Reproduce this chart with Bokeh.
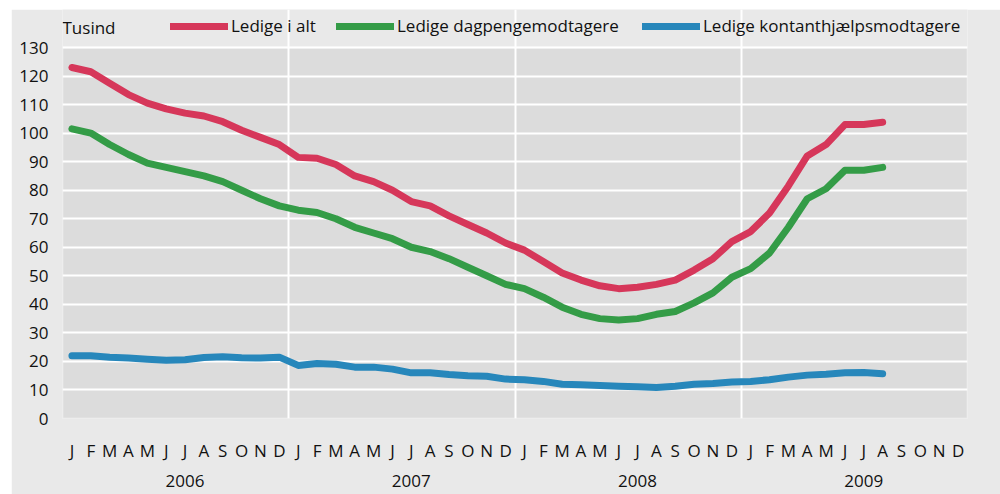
from bokeh.plotting import figure
from bokeh.models import (FixedTicker, LinearAxis, Range1d, Legend, LegendItem, Label,
                          Spacer, BoxAnnotation)
from bokeh.layouts import column, row
from bokeh.embed import file_html
from bokeh.resources import INLINE

month_letters = ["J", "F", "M", "A", "M", "J", "J", "A", "S", "O", "N", "D"]
years = ["2006", "2007", "2008", "2009"]

series_names = ["Ledige i alt", "Ledige dagpengemodtagere", "Ledige kontanthjælpsmodtagere"]
unit_label = "Tusind"

# Jan 2006 - Aug 2009, thousands
ledige_i_alt = [
    123.0, 121.5, 117.5, 113.5, 110.5, 108.5, 107.0, 106.0, 104.0, 101.0, 98.5, 96.0,
    91.5, 91.2, 89.0, 85.0, 83.0, 80.0, 76.0, 74.5, 71.0, 68.0, 65.0, 61.5,
    59.0, 55.0, 51.0, 48.5, 46.5, 45.5, 46.0, 47.0, 48.5, 52.0, 56.0, 62.0,
    65.5, 72.0, 81.5, 92.0, 96.0, 103.0, 103.0, 103.8,
]
ledige_dagpenge = [
    101.5, 100.0, 96.0, 92.5, 89.5, 88.0, 86.5, 85.0, 83.0, 80.0, 77.0, 74.5,
    73.0, 72.2, 70.0, 67.0, 65.0, 63.0, 60.0, 58.5, 56.0, 53.0, 50.0, 47.0,
    45.5, 42.5, 39.0, 36.5, 35.0, 34.5, 35.0, 36.5, 37.5, 40.5, 44.0, 49.5,
    52.5, 58.0, 67.0, 77.0, 80.5, 87.0, 87.0, 88.0,
]
ledige_kontanthjaelp = [
    22.0, 22.0, 21.5, 21.2, 20.8, 20.4, 20.6, 21.4, 21.6, 21.3, 21.2, 21.5,
    18.6, 19.3, 19.0, 18.0, 18.0, 17.3, 16.0, 16.0, 15.4, 15.0, 14.8, 13.8,
    13.6, 13.0, 12.0, 11.8, 11.6, 11.3, 11.1, 10.9, 11.3, 12.0, 12.3, 12.8,
    13.0, 13.6, 14.5, 15.2, 15.5, 16.0, 16.1, 15.7,
]

colors = ["#d6375a", "#349c47", "#2787bb"]
FONT = "Open Sans"
FS = "17px"
TXT = "#111111"
OUTER = "#e9e9e9"
INNER = "#dcdcdc"

x = list(range(len(ledige_i_alt)))
n_months = 12 * len(years)
y_max = 130
# frame extends above the 130 line to hold the legend row (409 px frame, 371 px for 0..130)
y_top = y_max * 409 / 371
x0, x1 = -0.5, n_months - 0.5

p = figure(
    width=989, height=485,
    x_range=Range1d(x0, x1), y_range=Range1d(0, y_top),
    output_backend="svg", toolbar_location=None,
    min_border_left=51, min_border_right=33, min_border_top=0, min_border_bottom=76,
)
p.background_fill_color = OUTER
p.border_fill_color = OUTER
p.outline_line_color = None

p.add_layout(BoxAnnotation(left=x0, right=x1, bottom=0, top=y_max,
                           fill_color=INNER, fill_alpha=1,
                           line_color="white", line_width=2, level="image"))

p.ygrid.ticker = FixedTicker(ticks=list(range(0, y_max + 1, 10)))
p.xgrid.ticker = FixedTicker(ticks=[i * 12 - 0.5 for i in range(len(years) + 1)])
p.xgrid.bounds = (0, y_max)
for g in (p.xgrid[0], p.ygrid[0]):
    g.grid_line_color = "white"
    g.grid_line_width = 2

ya = p.yaxis[0]
ya.ticker = FixedTicker(ticks=list(range(0, y_max + 1, 10)))
ya.axis_line_color = None
ya.major_tick_line_color = None
ya.minor_tick_line_color = None
ya.major_tick_out = 0
ya.major_tick_in = 0
ya.major_label_standoff = 14
ya.major_label_text_font = FONT
ya.major_label_text_font_size = FS
ya.major_label_text_color = TXT

xa = p.xaxis[0]
xa.ticker = FixedTicker(ticks=list(range(n_months)))
xa.major_label_overrides = {i: month_letters[i % 12] for i in range(n_months)}
xa.axis_line_color = None
xa.major_tick_line_color = None
xa.minor_tick_line_color = None
xa.major_tick_out = 0
xa.major_tick_in = 0
xa.major_label_standoff = 20
xa.major_label_text_font = FONT
xa.major_label_text_font_size = FS
xa.major_label_text_color = TXT

year_ticks = [i * 12 + 6 for i in range(len(years))]
xa2 = LinearAxis(
    ticker=FixedTicker(ticks=year_ticks),
    major_label_overrides={t: years[i] for i, t in enumerate(year_ticks)},
    axis_line_color=None, major_tick_line_color=None, minor_tick_line_color=None,
    major_tick_out=0, major_tick_in=0, major_label_standoff=10,
    major_label_text_font=FONT, major_label_text_font_size=FS,
    major_label_text_color=TXT,
)
p.add_layout(xa2, "below")

renderers = []
for ys, c in zip([ledige_i_alt, ledige_dagpenge, ledige_kontanthjaelp], colors):
    renderers.append(p.line(x, ys, line_color=c, line_width=7,
                            line_cap="round", line_join="round"))

legend_x = [108, 274, 580]
for name, r, lx in zip(series_names, renderers, legend_x):
    lg = Legend(
        items=[LegendItem(label=name, renderers=[r])],
        location=(lx, 381), orientation="horizontal",
        padding=0, margin=0, spacing=0,
        glyph_width=58, glyph_height=20, label_height=20, label_standoff=3,
        border_line_color=None, background_fill_alpha=0,
        label_text_font=FONT, label_text_font_size=FS, label_text_color=TXT,
    )
    p.add_layout(lg, "center")

p.add_layout(Label(x=x0, y=137, text=unit_label, text_baseline="middle", text_align="left",
                   text_font=FONT, text_font_size=FS, text_color=TXT))

layout = row(Spacer(width=11, height=494),
             column(Spacer(width=989, height=9), p, spacing=0), spacing=0)

open("out.html", "w").write(file_html(layout, INLINE))
